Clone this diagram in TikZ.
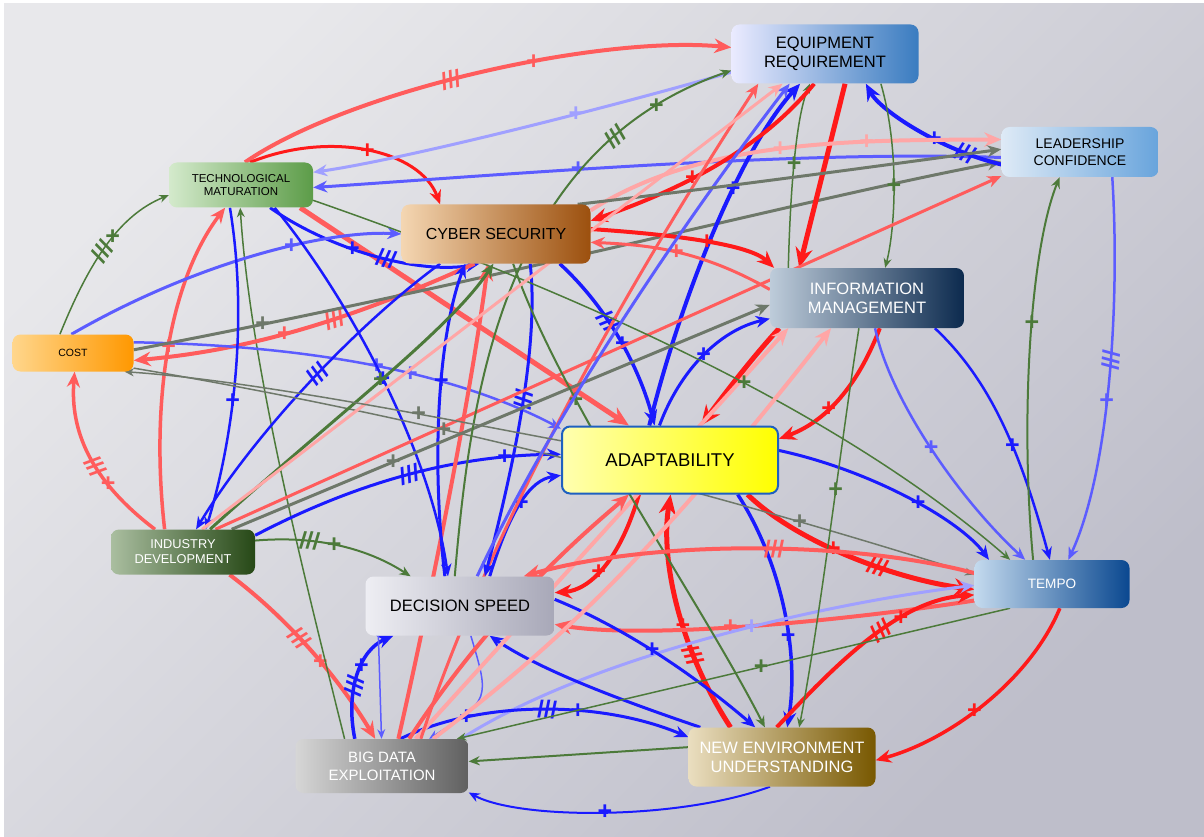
\documentclass[tikz,border=0pt]{standalone}
\usepackage{fontspec}
\setmainfont{Liberation Sans}
\usetikzlibrary{arrows.meta}
\definecolor{cR}{HTML}{FF1A1A}
\definecolor{cLR}{HTML}{FF5C5C}
\definecolor{cPR}{HTML}{FFA6A6}
\definecolor{cB}{HTML}{1A1AFF}
\definecolor{cMB}{HTML}{5C5CFF}
\definecolor{cLB}{HTML}{A0A0FF}
\definecolor{cG}{HTML}{4C7A3A}
\definecolor{cGG}{HTML}{6E786A}
\definecolor{bgA}{HTML}{E8E8EB}
\definecolor{bgB}{HTML}{BEBECA}
\pgfdeclarelayer{back}
\pgfdeclarelayer{edges}
\pgfsetlayers{back,edges,main}
\tikzset{
  arr/.style={-{Stealth[length=5pt 3,width=4pt 2.6]}},
  eR/.style={color=cR,line width=#1,arr}, eR/.default=3,
  eLR/.style={color=cLR,line width=#1,arr}, eLR/.default=3,
  ePR/.style={color=cPR,line width=#1,arr}, ePR/.default=3,
  eB/.style={color=cB,line width=#1,arr}, eB/.default=3,
  eMB/.style={color=cMB,line width=#1,arr}, eMB/.default=3,
  eLB/.style={color=cLB,line width=#1,arr}, eLB/.default=3,
  eG/.style={color=cG,line width=#1,arr}, eG/.default=1.5,
  eGG/.style={color=cGG,line width=#1,arr}, eGG/.default=1.5,
  pl/.style={font=\bfseries\fontsize{25}{25}\selectfont, inner sep=0pt},
  dl/.style={sloped, font=\bfseries\fontsize{24}{24}\selectfont, inner sep=0pt},
  box/.style={rounded corners=8pt, align=center, inner sep=2pt},
}
\begin{document}
\begin{tikzpicture}[x=1pt,y=-1pt]
\useasboundingbox (0,0) rectangle (1204,837);
\begin{pgfonlayer}{back}
\fill[white] (0,0) rectangle (1204,837);
\path[shading=axis, top color=bgA, bottom color=bgB, shading angle=45] (4,4) rectangle (1204,837);
\end{pgfonlayer}
% nodes
\node[box, minimum width=187pt, minimum height=59pt, left color=blue!8!white, right color={rgb,255:red,58;green,124;blue,192}, font=\fontsize{16.5}{19}\selectfont] (eq) at (825,54) {EQUIPMENT\\REQUIREMENT};
\node[box, minimum width=157pt, minimum height=50pt, left color={rgb,255:red,222;green,234;blue,246}, right color={rgb,255:red,104;green,164;blue,220}, font=\fontsize{14}{16.5}\selectfont] (lc) at (1080,152) {LEADERSHIP\\CONFIDENCE};
\node[box, minimum width=144pt, minimum height=45pt, left color={rgb,255:red,212;green,234;blue,204}, right color={rgb,255:red,92;green,156;blue,72}, font=\fontsize{11.5}{13.5}\selectfont] (tm) at (241,185) {TECHNOLOGICAL\\MATURATION};
\node[box, minimum width=189pt, minimum height=59pt, left color={rgb,255:red,244;green,214;blue,178}, right color={rgb,255:red,156;green,80;blue,14}, font=\fontsize{16}{18}\selectfont] (cs) at (496,234) {CYBER SECURITY};
\node[box, minimum width=194pt, minimum height=60pt, left color={rgb,255:red,190;green,204;blue,218}, right color={rgb,255:red,12;green,42;blue,78}, text=white, font=\fontsize{16.5}{19}\selectfont] (im) at (867,298) {INFORMATION\\MANAGEMENT};
\node[box, minimum width=121pt, minimum height=37pt, left color={rgb,255:red,255;green,214;blue,140}, right color={rgb,255:red,255;green,152;blue,0}, font=\fontsize{10.5}{12}\selectfont] (co) at (73,353) {COST};
\node[box, minimum width=216pt, minimum height=67pt, left color={rgb,255:red,255;green,255;blue,176}, right color={rgb,255:red,255;green,255;blue,0}, draw={rgb,255:red,30;green,96;blue,192}, line width=2pt, font=\fontsize{18.5}{21}\selectfont] (ad) at (670,460) {ADAPTABILITY};
\node[box, minimum width=144pt, minimum height=45pt, left color={rgb,255:red,170;green,190;blue,160}, right color={rgb,255:red,38;green,72;blue,22}, text=white, font=\fontsize{12.8}{15}\selectfont] (id) at (183,552) {INDUSTRY\\DEVELOPMENT};
\node[box, minimum width=189pt, minimum height=59pt, left color={rgb,255:red,238;green,238;blue,243}, right color={rgb,255:red,168;green,168;blue,184}, font=\fontsize{16.5}{19}\selectfont] (ds) at (460,606) {DECISION SPEED};
\node[box, minimum width=155pt, minimum height=48pt, left color={rgb,255:red,196;green,218;blue,238}, right color={rgb,255:red,10;green,72;blue,144}, text=white, font=\fontsize{13.6}{16}\selectfont] (te) at (1052,584) {TEMPO};
\node[box, minimum width=173pt, minimum height=54pt, left color={rgb,255:red,214;green,214;blue,214}, right color={rgb,255:red,96;green,96;blue,96}, text=white, font=\fontsize{15}{18}\selectfont] (bd) at (382,766) {BIG DATA\\EXPLOITATION};
\node[box, minimum width=187pt, minimum height=59pt, left color={rgb,255:red,234;green,222;blue,192}, right color={rgb,255:red,120;green,88;blue,0}, text=white, font=\fontsize{16.5}{19}\selectfont] (ne) at (782,757) {NEW ENVIRONMENT\\UNDERSTANDING};
% edges
\begin{pgfonlayer}{edges}
\draw[eLR=4] (tm.80) .. controls (350,90) and (600,35) .. (eq.176) node[dl,pos=.45]{///} node[pl,pos=.6]{+};
\draw[eR=3] (tm.68) .. controls (330,130) and (420,150) .. (cs.152) node[pl,pos=.5]{+};
\draw[eMB=3] (lc.184) .. controls (800,150) and (500,175) .. (tm.358) node[pl,pos=.6]{+};
\draw[eG=1.5] (co.125) .. controls (90,260) and (120,215) .. (tm.188) node[dl,pos=.45]{///} node[pl,pos=.55]{+};
\draw[eLR=3.5] (id.141) .. controls (90,480) and (70,430) .. (co.275) node[pl,pos=.3]{+} node[dl,pos=.42]{///};
\draw[eLR=3.5] (id.129) .. controls (150,400) and (170,280) .. (tm.235) node[pl,pos=.5]{+};
\draw[eG=2] (id.9) .. controls (320,535) and (370,550) .. (ds.149) node[dl,pos=.3]{///} node[pl,pos=.45]{+};
\draw[eLR=4] (id.334) .. controls (290,620) and (340,680) .. (bd.104) node[dl,pos=.42]{///} node[pl,pos=.56]{+};
\draw[eG=1.5] (bd.144) .. controls (300,560) and (250,360) .. (tm.268);
\draw[eLR=5] (tm.339) -- (ad.140);
\draw[eB=3] (tm.322) .. controls (330,250) and (420,275) .. (cs.241) node[pl,pos=.4]{+} node[dl,pos=.55]{///};
\draw[eMB=3] (co.95) .. controls (200,260) and (330,230) .. (cs.180) node[pl,pos=.6]{+};
\draw[eLR=4] (cs.234) .. controls (350,320) and (250,350) .. (co.353) node[dl,pos=.4]{///} node[pl,pos=.55]{+};
\draw[eMB=2.5] (co.10) .. controls (300,345) and (450,370) .. (ad.164) node[pl,pos=.52]{+} node[pl,pos=.6]{+};
\draw[eGG=3] (co.3) .. controls (500,280) and (800,200) .. (lc.187) node[pl,pos=.12]{+};
\draw[eB=4] (ad.121) .. controls (680,300) and (740,150) .. (eq.230) node[pl,pos=.62]{+};
\draw[eR=5] (eq.304) -- (im.156);
\draw[eB=4] (lc.189) .. controls (940,150) and (880,110) .. (eq.324) node[dl,pos=.2]{///} node[pl,pos=.38]{+};
\draw[ePR=4] (cs.14) .. controls (700,140) and (850,140) .. (lc.171) node[pl,pos=.5]{+} node[pl,pos=.7]{+};
\draw[eG=1.5] (eq.332) .. controls (900,150) and (895,230) .. (im.59) node[pl,pos=.5]{+};
\draw[eG=1.5] (im.159) .. controls (790,200) and (795,120) .. (eq.243) node[pl,pos=.5]{+};
\draw[eR=4] (eq.250) .. controls (760,150) and (680,190) .. (cs.8) node[pl,pos=.6]{+};
\draw[eR=4] (cs.3) .. controls (680,235) and (750,245) .. (im.162) node[pl,pos=.5]{+};
\draw[eLR=3] (im.175) .. controls (700,250) and (650,245) .. (cs.355) node[pl,pos=.5]{+};
\draw[eR=5] (im.199) .. controls (750,360) and (720,400) .. (ad.48);
\draw[eR=4] (im.293) .. controls (860,380) and (830,420) .. (ad.11) node[pl,pos=.62]{+};
\draw[eB=3] (ad.107) .. controls (680,370) and (720,330) .. (im.192) node[pl,pos=.5]{+};
\draw[eB=3.5] (cs.335) .. controls (610,310) and (640,370) .. (ad.114) node[dl,pos=.38]{///} node[pl,pos=.52]{+};
\draw[eB=3] (id.13) .. controls (380,470) and (480,455) .. (ad.177) node[dl,pos=.45]{///} node[pl,pos=.78]{+};
\draw[eB=3] (ds.45) .. controls (510,510) and (530,480) .. (ad.188) node[pl,pos=.5]{+};
\draw[eB=3] (ad.5) .. controls (870,470) and (960,520) .. (te.159) node[pl,pos=.55]{+};
\draw[eR=4] (ad.228) .. controls (620,560) and (590,590) .. (ds.8) node[pl,pos=.55]{+};
\draw[eB=3.5] (ad.333) .. controls (780,560) and (800,650) .. (ne.80) node[pl,pos=.62]{+};
\draw[eR=5] (ne.150) .. controls (680,650) and (660,560) .. (ad.271) node[pl,pos=.42]{+} node[dl,pos=.3]{///};
\draw[eR=5] (ad.336) .. controls (800,545) and (900,580) .. (te.184) node[pl,pos=.42]{+} node[dl,pos=.6]{///};
\draw[eLR=4] (te.192) .. controls (850,620) and (650,640) .. (ds.349) node[pl,pos=.55]{+};
\draw[eR=3.5] (te.288) .. controls (1030,680) and (950,740) .. (ne.358) node[pl,pos=.55]{+};
\draw[eR=4] (ne.100) .. controls (840,660) and (900,600) .. (te.188) node[dl,pos=.55]{///} node[pl,pos=.65]{+};
\draw[eLB=3] (bd.19) .. controls (600,650) and (850,600) .. (te.181) node[pl,pos=.55]{+};
\draw[eMB=2.5] (lc.322) .. controls (1120,300) and (1110,470) .. (te.56) node[dl,pos=.45]{///} node[pl,pos=.55]{+};
\draw[eB=2.5] (im.336) .. controls (990,380) and (1020,450) .. (te.95) node[pl,pos=.6]{+};
\draw[eMB=2.5] (im.285) .. controls (890,400) and (960,500) .. (te.138) node[pl,pos=.5]{+};
\draw[eG=2] (te.128) .. controls (1020,420) and (1030,250) .. (lc.231) node[pl,pos=.55]{+};
\draw[eB=3] (ds.4) .. controls (630,630) and (700,680) .. (ne.132) node[pl,pos=.45]{+};
\draw[eB=3] (bd.56) .. controls (480,700) and (600,700) .. (ne.168) node[pl,pos=.25]{+} node[dl,pos=.52]{///} node[pl,pos=.62]{+};
\draw[eB=3] (ne.160) .. controls (620,700) and (540,670) .. (ds.315);
\draw[eG=2] (ne.174) -- (bd.3);
\draw[eB=2] (ne.248) .. controls (680,820) and (520,820) .. (bd.343) node[pl,pos=.5]{+};
\draw[eB=3.5] (bd.135) .. controls (345,690) and (360,650) .. (ds.204) node[dl,pos=.4]{///} node[pl,pos=.58]{+};
\draw[eMB=1.5] (ds.200) -- (bd.91);
\draw[eMB=1.5] (ds.290) .. controls (490,700) .. (bd.30);
\draw[eLR=4] (bd.59) .. controls (430,600) and (470,400) .. (cs.255);
\draw[ePR=4] (bd.39) -- (im.201);
\draw[eLR=3] (bd.35) .. controls (500,500) and (650,250) .. (eq.204);
\draw[eB=3] (ds.117) .. controls (430,450) and (440,330) .. (cs.224) node[pl,pos=.55]{+};
\draw[eB=3] (cs.319) .. controls (540,350) and (510,480) .. (ds.50) node[dl,pos=.45]{///};
\draw[eB=2.5] (tm.326) .. controls (350,300) and (430,450) .. (ds.112) node[pl,pos=.5]{+};
\draw[eB=2.5] (tm.244) .. controls (250,330) and (230,450) .. (id.45) node[pl,pos=.55]{+};
\draw[eB=2.5] (cs.208) .. controls (350,330) and (250,440) .. (id.60) node[dl,pos=.45]{///};
\draw[eGG=3] (id.25) -- (im.184) node[pl,pos=.3]{+};
\draw[eLR=3] (id.35) -- (lc.197);
\draw[eGG=1.5] (co.346) .. controls (500,430) and (800,520) .. (te.173) node[pl,pos=.3]{+} node[pl,pos=.72]{+};
\draw[eG=1.5] (tm.348) .. controls (600,300) and (850,420) .. (te.150) node[pl,pos=.55]{+};
\draw[eG=3] (id.40) .. controls (330,420) and (450,330) .. (cs.265) node[pl,pos=.5]{+};
\draw[eG=2] (cs.300) .. controls (560,400) and (700,600) .. (ne.120) node[pl,pos=.3]{+};
\draw[eMB=3] (ds.60) .. controls (560,400) and (700,200) .. (eq.220);
\draw[eLB=3] (eq.191) .. controls (600,110) and (400,160) .. (tm.10) node[pl,pos=.35]{+};
\draw[eG=2] (ds.100) .. controls (470,400) and (500,150) .. (eq.190) node[dl,pos=.8]{///} node[pl,pos=.88]{+};
\draw[eGG=3] (cs.20) .. controls (700,190) and (850,170) .. (lc.178);
\draw[ePR=3] (id.50) -- (eq.215);
\draw[eG=1.5] (im.255) .. controls (840,450) and (820,620) .. (ne.60) node[pl,pos=.4]{+};
\draw[eG=1.5] (te.210) -- (bd.20) node[pl,pos=.45]{+};
\draw[eGG=1.5] (ad.170) .. controls (450,420) and (250,380) .. (co.340) node[pl,pos=.35]{+};
\draw[eLR=4] (bd.45) .. controls (500,600) and (600,520) .. (ad.220);
\draw[ePR=4] (bd.28) .. controls (550,650) and (650,560) .. (im.220);
\draw[eLR=4] (te.172) .. controls (850,540) and (650,540) .. (ds.25) node[dl,pos=.45]{///};
\end{pgfonlayer}
\end{tikzpicture}
\end{document}
